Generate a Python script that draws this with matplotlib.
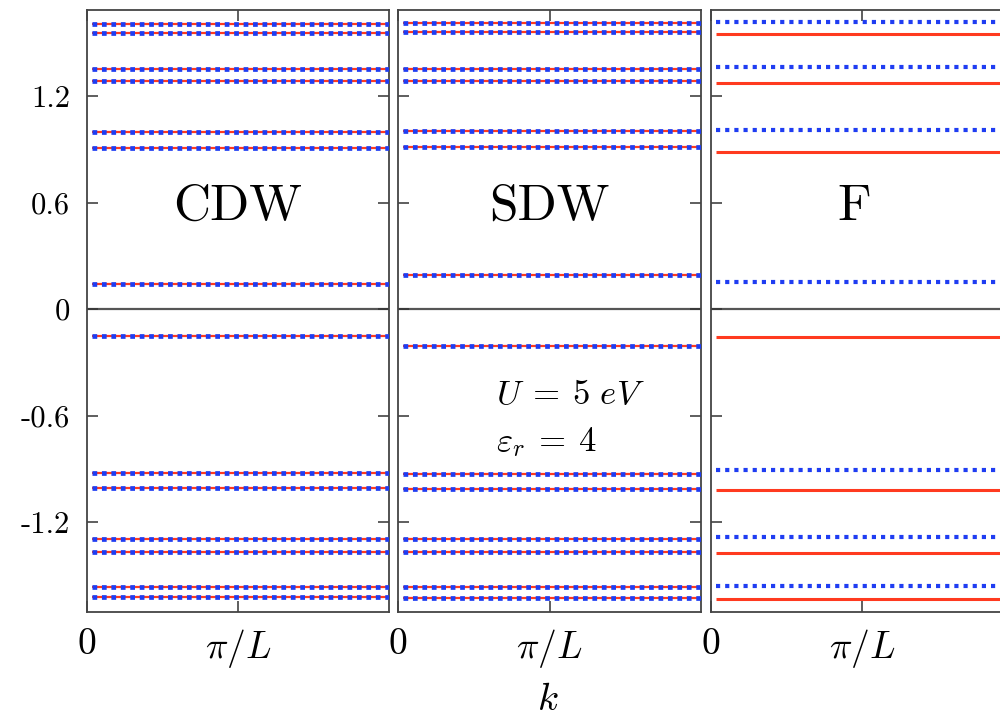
import numpy as np
import matplotlib
matplotlib.use("Agg")
import matplotlib.pyplot as plt

plt.rcParams["font.family"] = ["cmr10", "DejaVu Serif"]
plt.rcParams["mathtext.fontset"] = "cm"
plt.rcParams["axes.unicode_minus"] = False

# band energies (eV) at the flat levels of each phase
cdw_levels = [1.606, 1.555, 1.352, 1.285, 0.997, 0.907, 0.141,
              -0.152, -0.924, -1.008, -1.296, -1.369, -1.566, -1.623]
sdw_levels = [1.611, 1.561, 1.352, 1.285, 1.003, 0.913, 0.192,
              -0.208, -0.930, -1.014, -1.296, -1.369, -1.566, -1.628]
f_up_levels = [1.617, 1.363, 1.008, 0.152, -0.907, -1.285, -1.561]
f_down_levels = [1.549, 1.273, 0.885, -0.158, -1.020, -1.375, -1.634]

panel_names = ["CDW", "SDW", "F"]
k_range = (0.03, 2.0)          # k in units of pi/L
y_ticks = [-1.2, -0.6, 0, 0.6, 1.2]
y_ticklabels = ["-1.2", "-0.6", "0", "0.6", "1.2"]
x_ticks = [0, 1]
x_ticklabels = ["0", r"$\pi/L$"]

BLUE = "#1f3df2"
RED = "#ff3a1f"
GRID_GREY = "#555555"

fig = plt.figure(figsize=(10, 7.16), dpi=100)
bottom, height = 1 - 612 / 716, 602 / 716
lefts = [0.087, 0.398, 0.711]
widths = [0.302, 0.303, 0.302]

axes = [fig.add_axes([l, bottom, w, height]) for l, w in zip(lefts, widths)]


def draw_levels(ax, levels, color, style, lw, z):
    ax.hlines(levels, k_range[0], k_range[1], colors=color,
              linestyles=style, linewidth=lw, zorder=z)


# degenerate phases: red and blue bands on top of each other
for ax, levels in zip(axes[:2], [cdw_levels, sdw_levels]):
    draw_levels(ax, levels, RED, "solid", 1.6, 2)
    draw_levels(ax, levels, BLUE, (0, (1, 1)), 3.4, 3)

# ferromagnetic phase: split spin channels
draw_levels(axes[2], f_up_levels, BLUE, (0, (1, 1.2)), 3.0, 3)
draw_levels(axes[2], f_down_levels, RED, "solid", 2.2, 2)

for i, (ax, name) in enumerate(zip(axes, panel_names)):
    ax.set_xlim(0, 2)
    ax.set_ylim(-1.707, 1.685)
    ax.axhline(0, color=GRID_GREY, lw=1.6, zorder=1)
    ax.set_xticks(x_ticks)
    ax.set_xticklabels(x_ticklabels, fontsize=27)
    ax.set_yticks(y_ticks)
    if i == 0:
        ax.set_yticklabels(y_ticklabels, fontsize=22)
    else:
        ax.set_yticklabels([])
    ax.tick_params(direction="in", length=8, width=1.1, color="#333333",
                   top=True, right=True, pad=12)
    ax.tick_params(axis="x", pad=11)
    for sp in ax.spines.values():
        sp.set_color("#444444")
        sp.set_linewidth(1.3)
    ax.text(1.0 if name != "F" else 0.95, 0.575, name, fontsize=37,
            ha="center", va="center", family="cmr10")

axes[1].text(0.65, -0.485, r"$U\:=\:5\ eV$", fontsize=25, ha="left", va="center")
axes[1].text(0.65, -0.75, r"$\varepsilon_r\:=\:4$", fontsize=25, ha="left", va="center")

fig.text(0.548, 1 - 700 / 716, r"$k$", fontsize=28, ha="center", va="center")

fig.savefig("out.png", dpi=100)
